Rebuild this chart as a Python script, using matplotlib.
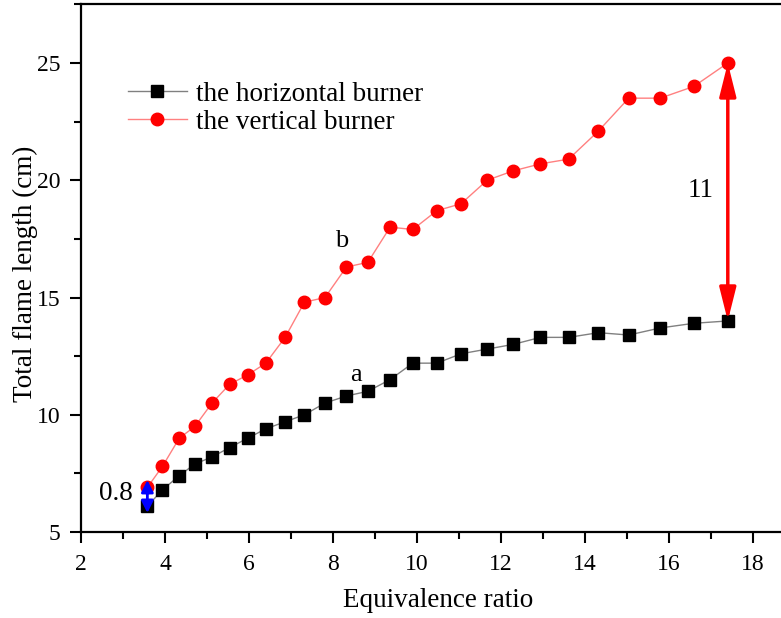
import matplotlib
matplotlib.use("Agg")
import matplotlib.pyplot as plt
from matplotlib.patches import FancyArrowPatch
from matplotlib.ticker import MultipleLocator

plt.rcParams['font.family'] = ['Liberation Serif', 'DejaVu Serif']
plt.rcParams['mathtext.fontset'] = 'stix'

equivalence_ratio = [3.58, 3.94, 4.34, 4.71, 5.12, 5.54, 5.97, 6.40, 6.86, 7.32,
                     7.81, 8.32, 8.83, 9.36, 9.90, 10.47, 11.05, 11.67, 12.29,
                     12.94, 13.61, 14.32, 15.04, 15.79, 16.59, 17.40]
horizontal_burner = [6.1, 6.8, 7.4, 7.9, 8.2, 8.6, 9.0, 9.4, 9.7, 10.0, 10.5,
                     10.8, 11.0, 11.5, 12.2, 12.2, 12.6, 12.8, 13.0, 13.3, 13.3,
                     13.5, 13.4, 13.7, 13.9, 14.0]
vertical_burner = [6.9, 7.8, 9.0, 9.5, 10.5, 11.3, 11.7, 12.2, 13.3, 14.8, 15.0,
                   16.3, 16.5, 18.0, 17.9, 18.7, 19.0, 20.0, 20.4, 20.7, 20.9,
                   22.1, 23.5, 23.5, 24.0, 25.0]
series_labels = ["the horizontal burner", "the vertical burner"]

W, H = 781, 618
fig = plt.figure(figsize=(W / 100, H / 100), dpi=100)
# axes: x=2 at px 81, 42 px/unit, xlim 2..19 (right part cropped)
x0, y0 = 81, 532
ppx, ppy = 42.0, 23.45
xmin, xmax, ymin, ymax = 2, 19, 5, 27.5
ax = fig.add_axes([x0 / W, (H - y0) / H, (xmax - xmin) * ppx / W, (ymax - ymin) * ppy / H])

ax.plot(equivalence_ratio, horizontal_burner, color='#808080', lw=1.0,
        marker='s', ms=8.5, mfc='black', mec='black', label=series_labels[0], zorder=3)
ax.plot(equivalence_ratio, vertical_burner, color='#ff8080', lw=1.0,
        marker='o', ms=9, mfc='#ff0000', mec='#ff0000', label=series_labels[1], zorder=3)

ax.set_xlim(xmin, xmax)
ax.set_ylim(ymin, ymax)
ax.xaxis.set_major_locator(MultipleLocator(2))
ax.xaxis.set_minor_locator(MultipleLocator(1))
ax.yaxis.set_major_locator(MultipleLocator(5))
ax.yaxis.set_minor_locator(MultipleLocator(2.5))
ax.tick_params(which='both', direction='out', width=1.5, labelsize=17, colors='black')
ax.tick_params(which='major', length=8)
ax.tick_params(which='minor', length=5)
ax.tick_params(axis='x', which='major', pad=8)
ax.tick_params(axis='y', which='major', pad=7)
for s in ax.spines.values():
    s.set_linewidth(1.6)

ax.set_xlabel("Equivalence ratio", fontsize=19.5, labelpad=9)
ax.set_ylabel("Total flame length (cm)", fontsize=19.5)
ax.yaxis.set_label_coords(-0.060, 0.49)

leg = ax.legend(loc='upper left', bbox_to_anchor=(0.05, 0.874), frameon=False,
                fontsize=19.5, handlelength=2.2, handletextpad=0.33, labelspacing=0.12,
                borderaxespad=0)

# red double arrow (difference 11)
arr = FancyArrowPatch((17.40, 25.0), (17.40, 14.0),
                      arrowstyle='<|-|>,head_length=20,head_width=5',
                      mutation_scale=1, color='#ff0000', lw=2.5, shrinkA=0, shrinkB=0, zorder=4)
ax.add_patch(arr)
# blue double arrow (difference 0.8)
arr2 = FancyArrowPatch((3.58, 7.22), (3.58, 5.81),
                       arrowstyle='<|-|>,head_length=7.2,head_width=3.6',
                       mutation_scale=1, color='#0000ff', lw=2.0, shrinkA=0, shrinkB=0, zorder=5)
ax.add_patch(arr2)

ax.text(16.75, 19.58, "11", fontsize=19.5, ha='center', va='center')
ax.text(2.83, 6.66, "0.8", fontsize=19.5, ha='center', va='center')
ax.text(8.21, 17.41, "b", fontsize=19, ha='center', va='center')
ax.text(8.55, 11.7, "a", fontsize=19, ha='center', va='center')

fig.savefig("out.png", dpi=100)
